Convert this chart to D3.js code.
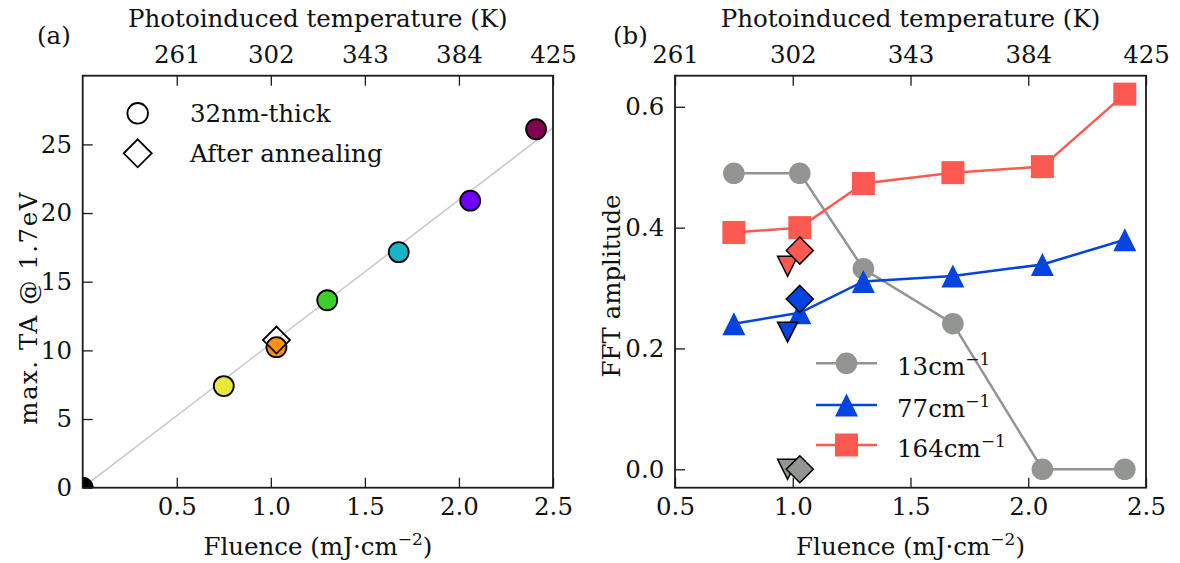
<!DOCTYPE html>
<meta charset="utf-8">
<script src="https://cdn.jsdelivr.net/npm/d3@7"></script>
<style>
  body { margin: 0; background: #fff; }
  svg text { font-family: "DejaVu Serif", serif; fill: #111; }
</style>
<div id="chart"></div>
<script>

// ---- data ----
// panel (a)
var taFluence = [0, 0.75, 1.03, 1.30, 1.68, 2.06, 2.41];
var taValue   = [0, 7.4, 10.23, 13.65, 17.15, 20.9, 26.1];
var taColors  = ["#000000", "#e8e83c", "#ff9010", "#3ccf2a", "#1ab4c8", "#7000ff", "#800052"];
var annealFluenceA = [1.03];
var annealTA = [10.75];
var fitX = [0, 2.5];
var fitY = [0, 26.2];

// panel (b)
var fluence = [0.75, 1.03, 1.30, 1.68, 2.06, 2.41];
var amp13  = [0.49, 0.49, 0.332, 0.241, 0.0, 0.0];
var amp77  = [0.241, 0.259, 0.311, 0.320, 0.339, 0.380];
var amp164 = [0.392, 0.400, 0.473, 0.491, 0.501, 0.621];
var seriesNames = ["13cm", "77cm", "164cm"];
var seriesColors = ["#929591", "#0343df", "#fc5a50"];
var annealX = 1.03;
var annealAmp = [0.0, 0.282, 0.362];
var downX = 0.978;
var downAmp = [0.0, 0.227, 0.336];

// twin axis (temperature)
var tempTicks = [0.5, 1.0, 1.5, 2.0, 2.5];
var tempLabels = ["261", "302", "343", "384", "425"];

var width = 1180, height = 563;
var fs = 24.5;

var svg = d3.select("#chart").append("svg")
  .attr("width", width)
  .attr("height", height);

// marker shapes (matplotlib-like, centred on bbox)
function triUp(h) { return "M0," + (-h) + "L" + h + "," + h + "L" + (-h) + "," + h + "Z"; }
function triDown(h) { return "M" + (-h) + "," + (-h) + "L" + h + "," + (-h) + "L0," + h + "Z"; }
function diamond(d) { return "M0," + (-d) + "L" + d + ",0L0," + d + "L" + (-d) + ",0Z"; }

function drawFrame(g, x, y, opts) {
  var x0 = x.range()[0], x1 = x.range()[1], y0 = y.range()[0], y1 = y.range()[1];

  var bottom = g.append("g")
    .attr("transform", "translate(0," + y0 + ")")
    .call(d3.axisBottom(x).tickValues(opts.xticks).tickFormat(d3.format(".1f"))
      .tickSizeInner(-10).tickSizeOuter(0).tickPadding(10.4));
  var top = g.append("g")
    .attr("transform", "translate(0," + y1 + ")")
    .call(d3.axisTop(x).tickValues(tempTicks).tickFormat(function(d, i) { return tempLabels[i]; })
      .tickSizeInner(-10).tickSizeOuter(0).tickPadding(12.4));
  var left = g.append("g")
    .attr("transform", "translate(" + x0 + ",0)")
    .call(d3.axisLeft(y).tickValues(opts.yticks).tickFormat(opts.yfmt)
      .tickSizeInner(-10).tickSizeOuter(0).tickPadding(10.7));

  [bottom, top, left].forEach(function(a) {
    a.select(".domain").remove();
    a.selectAll(".tick line").attr("stroke", "#1a1a1a").attr("stroke-width", 1.3);
    a.selectAll(".tick text").style("font-family", "DejaVu Serif").style("font-size", fs + "px").attr("fill", "#111");
  });

  g.append("rect")
    .attr("x", x0).attr("y", y1)
    .attr("width", x1 - x0).attr("height", y0 - y1)
    .attr("fill", "none")
    .attr("stroke", "#1a1a1a")
    .attr("stroke-width", 1.8);

  var cx = (x0 + x1) / 2;
  g.append("text")
    .attr("x", cx).attr("y", 26.7)
    .attr("text-anchor", "middle")
    .style("font-size", fs + "px")
    .text("Photoinduced temperature (K)");

  var fl = g.append("text")
    .attr("x", cx).attr("y", 555)
    .attr("text-anchor", "middle")
    .style("font-size", fs + "px");
  fl.append("tspan").text("Fluence (mJ\u00b7cm");
  fl.append("tspan").attr("dy", -10).style("font-size", "17px").text("\u22122");
  fl.append("tspan").attr("dy", 10).text(")");
}

// ================= panel (a) =================
var xa = d3.scaleLinear().domain([0, 2.5]).range([82.7, 553]);
var ya = d3.scaleLinear().domain([0, 30]).range([487.7, 75.7]);

var ga = svg.append("g");
ga.append("clipPath").attr("id", "clipA")
  .append("rect").attr("x", 82.7).attr("y", 75.7).attr("width", 553 - 82.7).attr("height", 487.7 - 75.7);

var plotA = ga.append("g").attr("clip-path", "url(#clipA)");

plotA.append("line")
  .attr("x1", xa(fitX[0])).attr("y1", ya(fitY[0]))
  .attr("x2", xa(fitX[1])).attr("y2", ya(fitY[1]))
  .attr("stroke", "#c8c8c8")
  .attr("stroke-width", 1.5);

plotA.selectAll("circle.ta")
  .data(taFluence)
  .enter()
  .append("circle")
    .attr("class", "ta")
    .attr("cx", function(d) { return xa(d); })
    .attr("cy", function(d, i) { return ya(taValue[i]); })
    .attr("r", 10)
    .attr("fill", function(d, i) { return taColors[i]; })
    .attr("stroke", "#000")
    .attr("stroke-width", 1.8);

plotA.selectAll("path.anneal")
  .data(annealFluenceA)
  .enter()
  .append("path")
    .attr("class", "anneal")
    .attr("d", diamond(13.5))
    .attr("transform", function(d, i) { return "translate(" + xa(d) + "," + ya(annealTA[i]) + ")"; })
    .attr("fill", "none")
    .attr("stroke", "#000")
    .attr("stroke-width", 1.8);

drawFrame(ga, xa, ya, {
  xticks: [0.5, 1.0, 1.5, 2.0, 2.5],
  yticks: [0, 5, 10, 15, 20, 25],
  yfmt: d3.format("d")
});

ga.append("text")
  .attr("transform", "translate(37,308) rotate(-90)")
  .attr("text-anchor", "middle")
  .style("font-size", fs + "px")
  .style("letter-spacing", "1.5px")
  .text("max. TA @ 1.7eV");

ga.append("text")
  .attr("x", 37).attr("y", 43.5)
  .style("font-size", fs + "px")
  .text("(a)");

// legend (a)
ga.append("circle")
  .attr("cx", 137.7).attr("cy", 113.3).attr("r", 10.3)
  .attr("fill", "#fff").attr("stroke", "#000").attr("stroke-width", 1.8);
ga.append("path")
  .attr("d", diamond(14))
  .attr("transform", "translate(137.7,153.3)")
  .attr("fill", "#fff").attr("stroke", "#000").attr("stroke-width", 1.8);
ga.append("text").attr("x", 190).attr("y", 122).style("font-size", fs + "px").text("32nm-thick");
ga.append("text").attr("x", 190).attr("y", 162).style("font-size", fs + "px").text("After annealing");

// ================= panel (b) =================
var xb = d3.scaleLinear().domain([0.5, 2.5]).range([675, 1146]);
var yb = d3.scaleLinear().domain([-0.0305, 0.6515]).range([487.7, 75.7]);

var gb = svg.append("g");
gb.append("clipPath").attr("id", "clipB")
  .append("rect").attr("x", 675).attr("y", 75.7).attr("width", 1146 - 675).attr("height", 487.7 - 75.7);
var plotB = gb.append("g").attr("clip-path", "url(#clipB)");

var series = [amp13, amp77, amp164];
var line = d3.line()
  .x(function(d, i) { return xb(fluence[i]); })
  .y(function(d) { return yb(d); });

series.forEach(function(vals, s) {
  plotB.append("path")
    .datum(vals)
    .attr("d", line)
    .attr("fill", "none")
    .attr("stroke", seriesColors[s])
    .attr("stroke-width", 2.5);

  var pts = plotB.selectAll("g.pt" + s)
    .data(vals)
    .enter()
    .append("g")
      .attr("transform", function(d, i) { return "translate(" + xb(fluence[i]) + "," + yb(d) + ")"; });

  if (s === 0) pts.append("circle").attr("r", 10.8).attr("fill", seriesColors[s]);
  if (s === 1) pts.append("path").attr("d", triUp(11.5)).attr("fill", seriesColors[s]);
  if (s === 2) pts.append("rect").attr("x", -11.5).attr("y", -11.5).attr("width", 23).attr("height", 23).attr("fill", seriesColors[s]);
});

// reference (unannealed) down triangles and annealed diamonds
plotB.selectAll("path.down")
  .data(downAmp)
  .enter()
  .append("path")
    .attr("class", "down")
    .attr("d", triDown(10))
    .attr("transform", function(d) { return "translate(" + xb(downX) + "," + yb(d) + ")"; })
    .attr("fill", function(d, i) { return seriesColors[i]; })
    .attr("stroke", "#000")
    .attr("stroke-width", 1.5);

plotB.selectAll("path.diam")
  .data(annealAmp)
  .enter()
  .append("path")
    .attr("class", "diam")
    .attr("d", diamond(13.5))
    .attr("transform", function(d) { return "translate(" + xb(annealX) + "," + yb(d) + ")"; })
    .attr("fill", function(d, i) { return seriesColors[i]; })
    .attr("stroke", "#000")
    .attr("stroke-width", 1.5);

drawFrame(gb, xb, yb, {
  xticks: [0.5, 1.0, 1.5, 2.0, 2.5],
  yticks: [0.0, 0.2, 0.4, 0.6],
  yfmt: d3.format(".1f")
});

gb.append("text")
  .attr("transform", "translate(620,286) rotate(-90)")
  .attr("text-anchor", "middle")
  .style("font-size", fs + "px")
  .text("FFT amplitude");

gb.append("text")
  .attr("x", 613).attr("y", 43.5)
  .style("font-size", fs + "px")
  .text("(b)");

// legend (b)
var legRows = [363.3, 405, 445];
legRows.forEach(function(ly, s) {
  var lg = gb.append("g");
  lg.append("line")
    .attr("x1", 816).attr("x2", 877).attr("y1", ly).attr("y2", ly)
    .attr("stroke", seriesColors[s]).attr("stroke-width", 2.5);
  var m = lg.append("g").attr("transform", "translate(846.5," + ly + ")");
  if (s === 0) m.append("circle").attr("r", 10.8).attr("fill", seriesColors[s]);
  if (s === 1) m.append("path").attr("d", triUp(11.5)).attr("fill", seriesColors[s]);
  if (s === 2) m.append("rect").attr("x", -11.5).attr("y", -11.5).attr("width", 23).attr("height", 23).attr("fill", seriesColors[s]);
  var t = lg.append("text").attr("x", 897).attr("y", ly + 11.5).style("font-size", fs + "px");
  t.append("tspan").text(seriesNames[s]);
  t.append("tspan").attr("dy", -10).style("font-size", "17px").text("\u22121");
});

</script>
